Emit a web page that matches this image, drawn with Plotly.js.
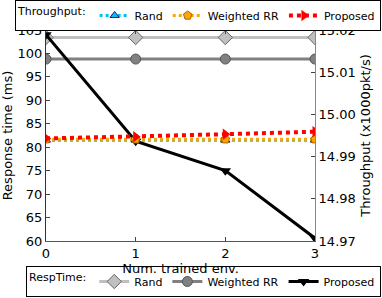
<!DOCTYPE html>
<html><head><meta charset="utf-8">
<script src="https://cdn.plot.ly/plotly-3.0.1.min.js"></script>
<style>html,body{margin:0;padding:0;background:#fff}</style></head>
<body><div id="c" style="width:382px;height:298px"></div>
<script>
const envs = [0, 1, 2, 3];
const xTicks = ['0', '1', '2', '3'];
const respRand = [103.4, 103.4, 103.4, 103.4];
const respWRR = [98.8, 98.8, 98.8, 98.8];
const respProposed = [104.0, 81.3, 75.0, 60.6];
const thrRand = [14.9939, 14.9939, 14.9939, 14.9939];
const thrWRR = [14.9941, 14.9941, 14.9941, 14.9941];
const thrProposed = [14.9943, 14.9947, 14.9953, 14.9959];
const leftTicks = [60, 65, 70, 75, 80, 85, 90, 95, 100, 105];
const rightTicks = [14.97, 14.98, 14.99, 15.00, 15.01, 15.02];

const F = 'DejaVu Sans, sans-serif';
const traces = [
  {x: envs, y: respRand, name: 'Rand', legend: 'legend2', mode: 'lines+markers',
   line: {color: '#c0c0c0', width: 3}, marker: {symbol: 'diamond', size: 11, color: '#c0c0c0', line: {color: '#666', width: 1}}},
  {x: envs, y: respWRR, name: 'Weighted RR', legend: 'legend2', mode: 'lines+markers',
   line: {color: '#808080', width: 3}, marker: {symbol: 'circle', size: 10, color: '#808080', line: {color: '#555', width: 1}}},
  {x: envs, y: respProposed, name: 'Proposed', legend: 'legend2', mode: 'lines+markers',
   line: {color: '#000', width: 3}, marker: {symbol: 'triangle-down', size: 10, color: '#000'}},
  {x: envs, y: thrRand, name: 'Rand', yaxis: 'y2', legend: 'legend', mode: 'lines+markers',
   line: {color: '#00bfff', width: 3, dash: 'dot'}, marker: {symbol: 'triangle-up', size: 8, color: '#00bfff', line: {color: '#226', width: 1}}},
  {x: envs, y: thrWRR, name: 'Weighted RR', yaxis: 'y2', legend: 'legend', mode: 'lines+markers',
   line: {color: '#ffa500', width: 3, dash: 'dot'}, marker: {symbol: 'pentagon', size: 9, color: '#ffa500', line: {color: '#a60', width: 1}}},
  {x: envs, y: thrProposed, name: 'Proposed', yaxis: 'y2', legend: 'legend', mode: 'lines+markers',
   line: {color: '#ff0000', width: 4, dash: 'dot'}, marker: {symbol: 'triangle-right', size: 10, color: '#ff0000'}}
];

const PL = 46, PR = 67, PT = 30, PB = 57, W = 382, H = 298;
const gw = W - PL - PR, gh = H - PT - PB;
const legX = (381 - PL) / gw;
const layout = {
  width: W, height: H,
  margin: {l: PL, r: PR, t: PT, b: PB, autoexpand: false},
  paper_bgcolor: '#fff', plot_bgcolor: '#fff',
  font: {family: F, size: 13, color: '#000'},
  xaxis: {range: [0, 3], tickvals: envs, ticktext: xTicks, ticks: 'inside', ticklen: 4,
    showgrid: false, zeroline: false, showline: true, linecolor: '#555', mirror: 'ticks',
    automargin: true,
    title: {text: 'Num. trained env.', font: {size: 13}, standoff: 3}, tickfont: {size: 13}},
  yaxis: {range: [60, 105], tickvals: leftTicks, ticks: 'inside', ticklen: 4,
    showgrid: false, zeroline: false, showline: true, linecolor: '#333', automargin: false,
    title: {text: 'Response time (ms)', font: {size: 13}}, tickfont: {size: 13}},
  yaxis2: {range: [14.97, 15.02], tickvals: rightTicks, tickformat: '.2f', overlaying: 'y', side: 'right',
    ticks: 'inside', ticklen: 4, showgrid: false, zeroline: false, showline: true, linecolor: '#888',
    automargin: false,
    title: {text: 'Throughput (x1000pkt/s)', font: {size: 13}}, tickfont: {size: 13}},
  legend: {orientation: 'h', xref: 'paper', yref: 'paper', x: legX, y: 1 + PT / gh,
    xanchor: 'right', yanchor: 'top', bordercolor: '#000', borderwidth: 1, bgcolor: '#fff',
    font: {size: 11}, title: {text: 'Throughput:', side: 'left', font: {size: 11}},
    itemwidth: 30, tracegroupgap: 0},
  legend2: {orientation: 'h', xref: 'paper', yref: 'paper', x: legX, y: -(H - 1 - (H - PB)) / gh,
    xanchor: 'right', yanchor: 'bottom', bordercolor: '#000', borderwidth: 1, bgcolor: '#fff',
    font: {size: 11}, title: {text: 'RespTime:', side: 'left', font: {size: 11}},
    itemwidth: 30, tracegroupgap: 0},
  showlegend: true
};
Plotly.newPlot('c', traces, layout, {displayModeBar: false, staticPlot: true});
</script></body></html>
